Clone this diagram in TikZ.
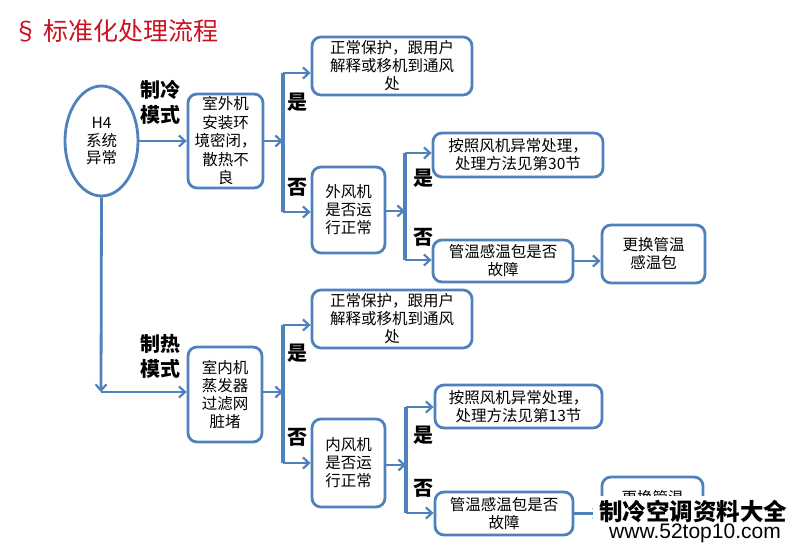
\documentclass[tikz,border=0pt]{standalone}
\usepackage{fontspec}
\setmainfont{Noto Sans CJK SC}
\setsansfont{Liberation Sans}
\usetikzlibrary{shapes.geometric,arrows.meta}
\definecolor{pblue}{RGB}{79,129,189}
\definecolor{pred}{RGB}{204,16,32}
\tikzset{
  box/.style={draw=pblue,line width=2.8pt,rounded corners=9pt,fill=white,align=center,inner sep=0pt,
     font=\fontsize{15.5}{18}\selectfont},
  arr/.style={draw=pblue,line width=2.8pt,-{Straight Barb[length=6pt,width=11pt,line width=2.2pt]}},
  vline/.style={draw=pblue,line width=3.6pt},
  lbl/.style={font=\fontsize{20}{25}\selectfont\bfseries,align=center,inner sep=0pt},
}
\begin{document}
\begin{tikzpicture}[x=1pt,y=-1pt]
\useasboundingbox (0,0) rectangle (793,548);
% title
\node[anchor=west,text=pred,font=\fontsize{25}{28}\selectfont,inner sep=0pt] (title) at (13,31) {§ 标准化处理流程};
% start
\node[ellipse,draw=pblue,line width=2.8pt,minimum width=73pt,minimum height=110pt,inner sep=0pt,align=center,font=\fontsize{15.5}{17.5}\selectfont] (ell) at (101.5,141) {H4\\系统\\异常};
% cooling branch
\node[box,minimum width=75pt,minimum height=94pt,font=\fontsize{15.5}{18.5}\selectfont] (b1) at (225.5,141) {室外机\\安装环\\境密闭，\\散热不\\良};
\node[box,minimum width=160pt,minimum height=58pt] (t1) at (392,66) {正常保护，跟用户\\解释或移机到通风\\处};
\node[box,minimum width=73pt,minimum height=86pt] (f1) at (348.5,210) {外风机\\是否运\\行正常};
\node[box,minimum width=170pt,minimum height=44pt] (r1) at (518,155) {按照风机异常处理，\\处理方法见第30节};
\node[box,minimum width=140pt,minimum height=42pt] (g1) at (503,261) {管温感温包是否\\故障};
\node[box,minimum width=103pt,minimum height=58pt] (h1) at (653.5,254) {更换管温\\感温包};
% heating branch
\node[box,minimum width=74pt,minimum height=95pt] (b2) at (225,394.5) {室内机\\蒸发器\\过滤网\\脏堵};
\node[box,minimum width=160pt,minimum height=58pt] (t2) at (392,319) {正常保护，跟用户\\解释或移机到通风\\处};
\node[box,minimum width=73pt,minimum height=88pt] (f2) at (348.5,463) {内风机\\是否运\\行正常};
\node[box,minimum width=167pt,minimum height=43pt] (r2) at (518.5,406.5) {按照风机异常处理，\\处理方法见第13节};
\node[box,minimum width=138pt,minimum height=43pt] (g2) at (504,513.5) {管温感温包是否\\故障};
\node[box,minimum width=101pt,minimum height=58pt] (h2) at (652.5,506) {更换管温\\感温包};
% split coordinates
\coordinate (s1) at (283,141);
\coordinate (s1t) at (283,73);
\coordinate (s1b) at (283,212);
\coordinate (s2) at (405,211);
\coordinate (s2t) at (405,153);
\coordinate (s2b) at (405,260);
\coordinate (d) at (101,392);
\coordinate (s3) at (283,392);
\coordinate (s3t) at (283,325);
\coordinate (s3b) at (283,463);
\coordinate (s4) at (406,465);
\coordinate (s4t) at (406,407);
\coordinate (s4b) at (406,513);
% connectors cooling
\draw[arr] (ell.east) -- (b1.west);
\draw[vline] (s1t) -- (s1b);
\draw[arr] (b1.east) -- (s1);
\draw[arr] (s1t) -- (s1t -| t1.west);
\draw[arr] (s1b) -- (s1b -| f1.west);
\draw[vline] (s2t) -- (s2b);
\draw[arr] (f1.east |- s2) -- (s2);
\draw[arr] (s2t) -- (s2t -| r1.west);
\draw[arr] (s2b) -- (s2b -| g1.west);
\draw[arr] (g1.east) -- (g1.east -| h1.west);
% connectors heating
\draw[arr] (ell.south) -- (d);
\draw[arr] (d) -- (d -| b2.west);
\draw[vline] (s3t) -- (s3b);
\draw[arr] (b2.east |- s3) -- (s3);
\draw[arr] (s3t) -- (s3t -| t2.west);
\draw[arr] (s3b) -- (s3b -| f2.west);
\draw[vline] (s4t) -- (s4b);
\draw[arr] (f2.east |- s4) -- (s4);
\draw[arr] (s4t) -- (s4t -| r2.west);
\draw[arr] (s4b) -- (s4b -| g2.west);
\draw[arr] (g2.east) -- (g2.east -| h2.west);
% labels
\node[lbl] (m1) at (160,102) {制冷\\模式};
\node[lbl] (m2) at (160,356) {制热\\模式};
\node[lbl] (y1) at (297,102) {是};
\node[lbl] (n1) at (297,187) {否};
\node[lbl] (y2) at (423,178) {是};
\node[lbl] (n2) at (423,237) {否};
\node[lbl] (y3) at (297,353) {是};
\node[lbl] (n3) at (297,437) {否};
\node[lbl] (y4) at (423,435) {是};
\node[lbl] (n4) at (423,488) {否};
% watermark
\node[fill=white,minimum width=200pt,minimum height=53pt,inner sep=0pt] (wm) at (693,522) {};
\node[font=\fontsize{23.5}{26}\selectfont\bfseries,inner sep=0pt] (wm1) at (693,511) {制冷空调资料大全};
\node[font=\sffamily\fontsize{21}{24}\selectfont,inner sep=0pt] (wm2) at (695,533) {www.52top10.com};
\end{tikzpicture}
\end{document}
